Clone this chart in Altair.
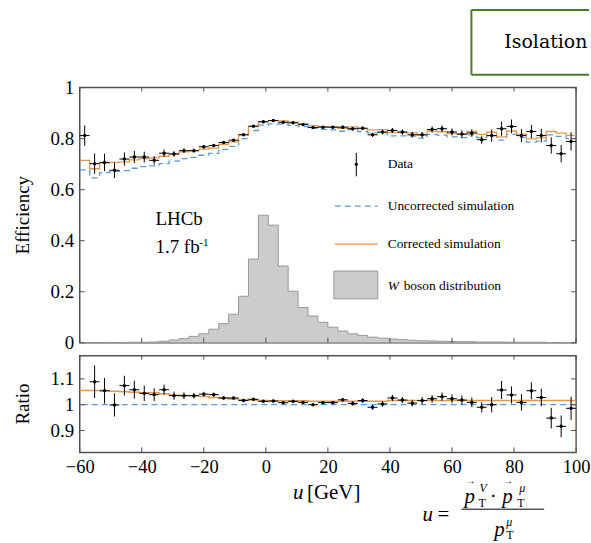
import altair as alt
import pandas as pd

# ---------------- data ----------------
NB = 50
BW = 3.2
bin_lo = [round(-60 + BW * i, 2) for i in range(NB)]
bin_hi = [round(b + BW, 2) for b in bin_lo]
bin_c = [round(b + BW / 2, 2) for b in bin_lo]

eff_data = [0.812, 0.702, 0.707, 0.676, 0.720, 0.728, 0.728, 0.715, 0.743, 0.740,
            0.753, 0.753, 0.768, 0.773, 0.785, 0.794, 0.815, 0.849, 0.866, 0.871,
            0.864, 0.862, 0.855, 0.844, 0.845, 0.845, 0.845, 0.839, 0.841, 0.815,
            0.826, 0.832, 0.826, 0.815, 0.815, 0.836, 0.839, 0.826, 0.818, 0.822,
            0.796, 0.812, 0.839, 0.848, 0.812, 0.828, 0.812, 0.773, 0.741, 0.789]
eff_err = [0.040, 0.040, 0.034, 0.030, 0.026, 0.024, 0.021, 0.017, 0.014, 0.011,
           0.009, 0.008, 0.007, 0.006, 0.005, 0.005, 0.004, 0.004, 0.004, 0.004,
           0.004, 0.004, 0.004, 0.004, 0.005, 0.005, 0.006, 0.007, 0.007, 0.008,
           0.009, 0.010, 0.010, 0.011, 0.011, 0.012, 0.013, 0.014, 0.015, 0.015,
           0.016, 0.024, 0.028, 0.027, 0.026, 0.026, 0.027, 0.032, 0.034, 0.036]
eff_uncorr = [0.678, 0.646, 0.667, 0.672, 0.675, 0.684, 0.690, 0.693, 0.702, 0.712,
              0.722, 0.727, 0.735, 0.742, 0.758, 0.770, 0.800, 0.832, 0.853, 0.858,
              0.857, 0.852, 0.847, 0.840, 0.836, 0.834, 0.829, 0.835, 0.828, 0.823,
              0.824, 0.811, 0.811, 0.810, 0.802, 0.817, 0.814, 0.807, 0.804, 0.815,
              0.804, 0.812, 0.794, 0.817, 0.805, 0.786, 0.790, 0.815, 0.809, 0.800]
eff_corr = [0.715, 0.682, 0.704, 0.707, 0.709, 0.717, 0.722, 0.725, 0.731, 0.739,
            0.748, 0.752, 0.759, 0.763, 0.778, 0.787, 0.816, 0.847, 0.867, 0.871,
            0.870, 0.865, 0.860, 0.851, 0.847, 0.845, 0.840, 0.846, 0.839, 0.834,
            0.835, 0.824, 0.824, 0.823, 0.815, 0.830, 0.827, 0.820, 0.817, 0.828,
            0.817, 0.825, 0.807, 0.830, 0.818, 0.799, 0.803, 0.828, 0.822, 0.813]
ratio_data = [None, 1.089, 1.054, 0.999, 1.074, 1.058, 1.044, 1.039, 1.058, 1.035,
              1.035, 1.035, 1.041, 1.039, 1.026, 1.026, 1.016, 1.021, 1.013, 1.014,
              1.008, 1.013, 1.009, 1.000, 1.008, 1.008, 1.019, 1.005, 1.016, 0.990,
              1.003, 1.026, 1.018, 1.006, 1.016, 1.023, 1.031, 1.023, 1.018, 1.009,
              0.990, 1.000, 1.057, 1.038, 1.009, 1.054, 1.028, 0.948, 0.916, 0.986]
ratio_err = [None, 0.063, 0.050, 0.045, 0.038, 0.035, 0.030, 0.025, 0.020, 0.016,
             0.013, 0.011, 0.009, 0.008, 0.007, 0.006, 0.005, 0.005, 0.005, 0.005,
             0.005, 0.005, 0.005, 0.005, 0.006, 0.006, 0.007, 0.008, 0.009, 0.010,
             0.011, 0.012, 0.012, 0.013, 0.014, 0.015, 0.016, 0.017, 0.018, 0.019,
             0.020, 0.030, 0.035, 0.033, 0.032, 0.033, 0.034, 0.040, 0.042, 0.045]
ratio_corr = [1.055, 1.055, 1.055, 1.052, 1.050, 1.048, 1.046, 1.046, 1.042, 1.038,
              1.036, 1.035, 1.032, 1.028, 1.026, 1.022, 1.020, 1.018, 1.016, 1.015,
              1.015, 1.015, 1.015, 1.013, 1.013, 1.013, 1.013, 1.013, 1.013, 1.013,
              1.013, 1.016, 1.016, 1.016, 1.016, 1.016, 1.016, 1.016, 1.016, 1.016,
              1.016, 1.016, 1.016, 1.016, 1.016, 1.016, 1.016, 1.016, 1.016, 1.016]
w_dist = [0.000, 0.000, 0.000, 0.001, 0.001, 0.002, 0.002, 0.003, 0.006, 0.011,
          0.016, 0.025, 0.035, 0.053, 0.075, 0.112, 0.182, 0.328, 0.500, 0.461,
          0.301, 0.202, 0.138, 0.105, 0.080, 0.061, 0.046, 0.035, 0.029, 0.022,
          0.018, 0.015, 0.012, 0.010, 0.008, 0.007, 0.006, 0.005, 0.004, 0.004,
          0.003, 0.003, 0.003, 0.002, 0.002, 0.002, 0.002, 0.001, 0.001, 0.001]

x_ticks = [-60, -40, -20, 0, 20, 40, 60, 80, 100]
y_ticks_eff = [0, 0.2, 0.4, 0.6, 0.8, 1]
y_ticks_ratio = [0.9, 1.0, 1.1]

# ---------------- style ----------------
SERIF = "Liberation Serif"
BLUE = "#5b9bd5"
ORANGE = "#e0994f"
FRAME = "#505050"
GREEN = "#4a7d28"
W, H1, H2 = 498, 256, 97
PAD_L, PAD_T, PAD_R = 79, 86, 14
LEG = 13.5

xs = alt.Scale(domain=[-60, 100], nice=False, zero=False)
ys1 = alt.Scale(domain=[0, 1], nice=False, zero=False)
ys2 = alt.Scale(domain=[0.815, 1.19], nice=False, zero=False)

ax_x_bottom = alt.Axis(values=x_ticks, format="d", title=None, labelPadding=5,
                       labelFontSize=18.5, labelFlush=False, labelOverlap=False)
ax_y1 = alt.Axis(values=y_ticks_eff, format=".1~f", title=None, labelFlush=False)
ax_y2 = alt.Axis(values=y_ticks_ratio, format=".1~f", title=None, labelFlush=False)


def X1(f):
    return alt.X(f, type="quantitative", scale=xs, axis=None)


def X2(f):
    return alt.X(f, type="quantitative", scale=xs, axis=ax_x_bottom)


def Y1(f):
    return alt.Y(f, type="quantitative", scale=ys1, axis=ax_y1)


def Y2(f):
    return alt.Y(f, type="quantitative", scale=ys2, axis=ax_y2)


one = pd.DataFrame({"a": [0]})


def txt(text, x, y, size=LEG, style="normal", align="left", baseline="middle",
        font=SERIF, color="black", angle=0):
    return alt.Chart(one).mark_text(
        text=text, font=font, fontSize=size, fontStyle=style, align=align,
        baseline=baseline, color=color, angle=angle
    ).encode(x=alt.value(x), y=alt.value(y))


def seg(x1, x2, y1, y2, color, width=1.0, dash=None):
    kw = dict(color=color, strokeWidth=width, strokeCap="butt")
    if dash:
        kw["strokeDash"] = dash
    return alt.Chart(one).mark_rule(**kw).encode(
        x=alt.value(x1), x2=alt.value(x2), y=alt.value(y1), y2=alt.value(y2))


# ---------------- tables ----------------
df = pd.DataFrame({
    "lo": bin_lo, "hi": bin_hi, "c": bin_c,
    "eff": eff_data, "err": eff_err,
    "ratio": ratio_data, "rerr": ratio_err,
})
df["e_lo"] = df["eff"] - df["err"]
df["e_hi"] = df["eff"] + df["err"]
rdf = df.dropna(subset=["ratio"]).copy()
rdf["r_lo"] = rdf["ratio"] - rdf["rerr"]
rdf["r_hi"] = rdf["ratio"] + rdf["rerr"]

step_x = bin_lo + [100]
hist_df = pd.DataFrame({"x": step_x, "y": w_dist + [w_dist[-1]]})
unc_df = pd.DataFrame({"x": step_x, "y": eff_uncorr + [eff_uncorr[-1]]})
cor_df = pd.DataFrame({"x": step_x, "y": eff_corr + [eff_corr[-1]]})
rcor_df = pd.DataFrame({"x": step_x + [100], "y": ratio_corr + [ratio_corr[-1], 0.5]})
xt = pd.DataFrame({"t": x_ticks})
yt1 = pd.DataFrame({"t": y_ticks_eff})
yt2 = pd.DataFrame({"t": y_ticks_ratio})

# ---------------- top panel ----------------
# tiny white anchor fixing the top-left corner of the page
anchor = alt.Chart(one).mark_rect(fill="white", strokeWidth=0).encode(
    x=alt.value(-PAD_L), x2=alt.value(-PAD_L + 1), y=alt.value(-PAD_T), y2=alt.value(-PAD_T + 1))

hist = alt.Chart(hist_df).mark_area(
    interpolate="step-after", fill="#cccccc", stroke="#999999", strokeWidth=1
).encode(x=X1("x"), y=Y1("y"))

unc = alt.Chart(unc_df).mark_line(
    interpolate="step-after", color=BLUE, strokeWidth=1.3, strokeDash=[6, 4]
).encode(x=X1("x"), y=Y1("y"))

cor = alt.Chart(cor_df).mark_line(
    interpolate="step-after", color=ORANGE, strokeWidth=1.3
).encode(x=X1("x"), y=Y1("y"))

vbar1 = alt.Chart(df).mark_rule(color="black", strokeWidth=1).encode(
    x=X1("c"), y=Y1("e_lo"), y2="e_hi")
hbar1 = alt.Chart(df).mark_rule(color="black", strokeWidth=1).encode(
    x=X1("lo"), x2="hi", y=Y1("eff"))
pts1 = alt.Chart(df).mark_circle(color="black", size=12, opacity=1).encode(
    x=X1("c"), y=Y1("eff"))

tk1 = [
    alt.Chart(xt).mark_rule(color=FRAME).encode(x=X1("t"), y=alt.value(H1), y2=alt.value(H1 - 5)),
    alt.Chart(xt).mark_rule(color=FRAME).encode(x=X1("t"), y=alt.value(0), y2=alt.value(4)),
    alt.Chart(yt1).mark_rule(color=FRAME).encode(y=Y1("t"), x=alt.value(0), x2=alt.value(5)),
    alt.Chart(yt1).mark_rule(color=FRAME).encode(y=Y1("t"), x=alt.value(W), x2=alt.value(W - 5)),
]

RIGHT = W + PAD_R - 1  # the box runs off the page edge like in the reference
leg = [
    seg(277.5, 277.5, 65.5, 89, "black"),
    alt.Chart(one).mark_circle(color="black", size=12, opacity=1).encode(
        x=alt.value(277.5), y=alt.value(77)),
    txt("Data", 309, 77),
    seg(256, 299, 119, 119, BLUE, 1.3, [6, 4]),
    txt("Uncorrected simulation", 309, 119),
    seg(256, 299, 157, 157, ORANGE, 1.3),
    txt("Corrected simulation", 309, 157),
    alt.Chart(one).mark_rect(fill="#cccccc", stroke="#999999", strokeWidth=1).encode(
        x=alt.value(255), x2=alt.value(299), y=alt.value(184), y2=alt.value(212)),
    txt("W", 309, 199, style="italic"),
    txt("boson distribution", 325, 199),
    txt("LHCb", 76, 138, size=19, baseline="alphabetic"),
    txt("1.7 fb", 76, 166, size=19, baseline="alphabetic"),
    txt("-1", 120, 159, size=11, baseline="alphabetic"),
    txt("Efficiency", -57, H1 / 2, size=19, align="center", angle=270),
    # "Isolation" box above the plot (its right side is cut by the page edge)
    seg(393, RIGHT, -78, -78, GREEN, 2),
    seg(393, RIGHT, -13, -13, GREEN, 2),
    seg(393, 393, -78, -13, GREEN, 2),
    txt("Isolation", 426, -46, size=19, font="DejaVu Serif"),
]

top = alt.layer(anchor, hist, unc, cor, vbar1, hbar1, pts1, *tk1, *leg).properties(
    width=W, height=H1)

# ---------------- ratio panel ----------------
one_line = alt.Chart(one).mark_rule(color=BLUE, strokeWidth=1.3, strokeDash=[6, 4]).encode(
    y=alt.datum(1.0, type="quantitative", scale=ys2, axis=ax_y2))
rcor = alt.Chart(rcor_df).mark_line(
    interpolate="step-after", color=ORANGE, strokeWidth=1.5, clip=True
).encode(x=X2("x"), y=Y2("y"))
vbar2 = alt.Chart(rdf).mark_rule(color="black", strokeWidth=1, clip=True).encode(
    x=X2("c"), y=Y2("r_lo"), y2="r_hi")
hbar2 = alt.Chart(rdf).mark_rule(color="black", strokeWidth=1).encode(
    x=X2("lo"), x2="hi", y=Y2("ratio"))
pts2 = alt.Chart(rdf).mark_circle(color="black", size=12, opacity=1).encode(
    x=X2("c"), y=Y2("ratio"))

tk2 = [
    alt.Chart(xt).mark_rule(color=FRAME).encode(x=X2("t"), y=alt.value(H2), y2=alt.value(H2 - 5)),
    alt.Chart(xt).mark_rule(color=FRAME).encode(x=X2("t"), y=alt.value(0), y2=alt.value(4)),
    alt.Chart(yt2).mark_rule(color=FRAME).encode(y=Y2("t"), x=alt.value(0), x2=alt.value(5)),
    alt.Chart(yt2).mark_rule(color=FRAME).encode(y=Y2("t"), x=alt.value(W), x2=alt.value(W - 5)),
]

deco2 = [
    txt("Ratio", -57, H2 / 2, size=19, align="center", angle=270),
    txt("u", 214, 138, size=21, style="italic"),
    txt("[GeV]", 228, 138, size=21),
    # formula u = (pT^V . pT^mu) / pT^mu
    txt("u", 344, 160, size=21, style="italic"),
    txt("=", 359, 160, size=21),
    seg(383, 466, 154, 154, "black", 1),
    txt("p", 386, 142, size=21, style="italic"),
    txt("\u2192", 392, 126, size=10, align="center"),
    txt("V", 401, 133, size=12, style="italic"),
    txt("T", 400, 148, size=12),
    txt("\u00b7", 415, 142, size=21, align="center"),
    txt("p", 424, 142, size=21, style="italic"),
    txt("\u2192", 430, 126, size=10, align="center"),
    txt("\u03bc", 441, 133, size=12, style="italic"),
    txt("T", 439, 148, size=12),
    txt("p", 416, 175, size=21, style="italic"),
    txt("\u03bc", 428, 167, size=12, style="italic"),
    txt("T", 428, 180, size=12),
]

bottom = alt.layer(one_line, rcor, vbar2, hbar2, pts2, *tk2, *deco2).properties(
    width=W, height=H2)

chart = alt.vconcat(top, bottom, spacing=13, bounds="flush").properties(
    padding=0, background="white",
).configure_view(
    stroke=FRAME, strokeWidth=1.5
).configure_axis(
    labelFont=SERIF, labelFontSize=19, labelColor="black",
    ticks=False, domain=False, grid=False, labelPadding=6,
)

chart.save("out.html", embed_options={"renderer": "svg", "actions": False})
